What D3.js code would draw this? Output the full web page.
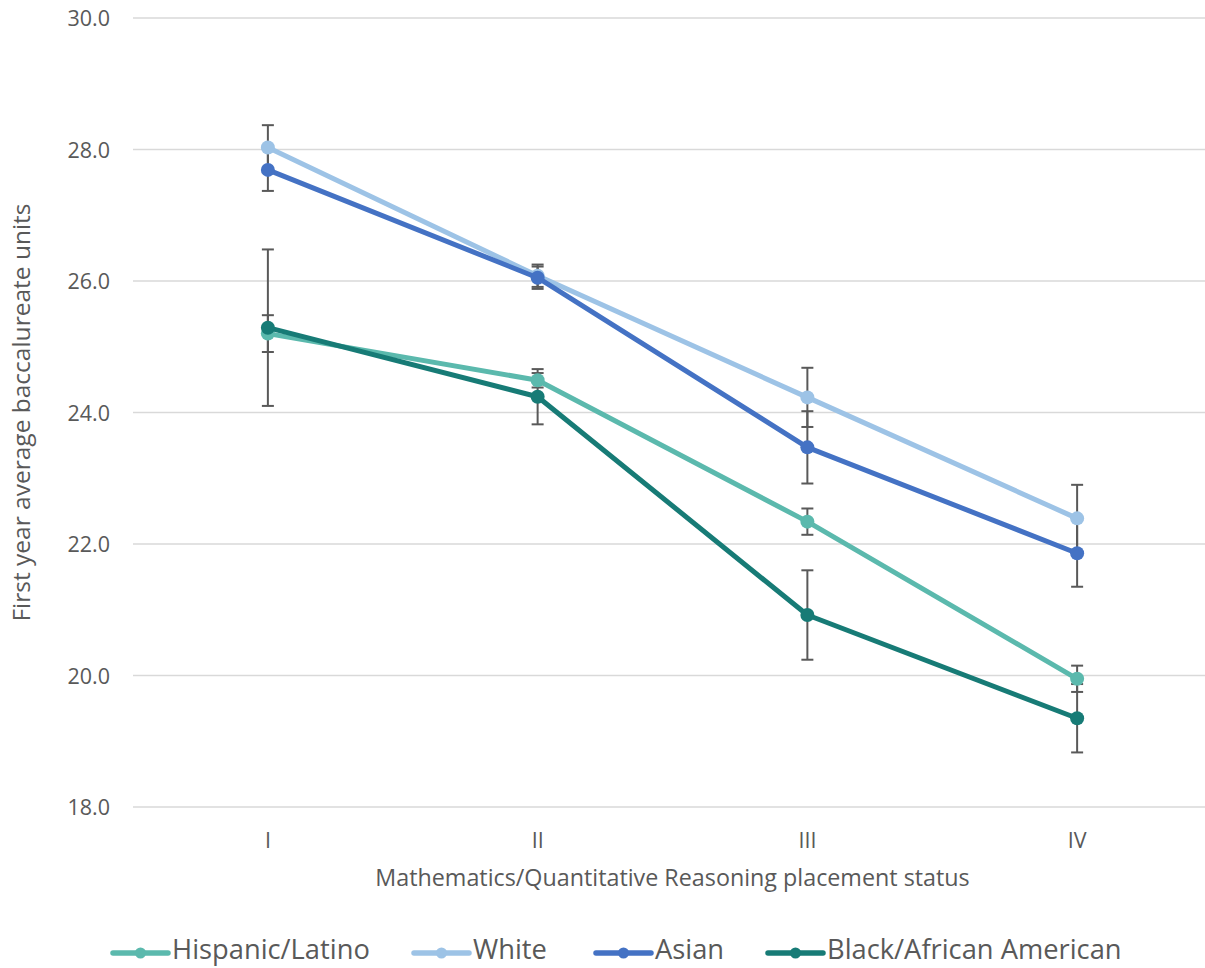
<!DOCTYPE html>
<html><head><meta charset="utf-8">
<script src="https://cdn.jsdelivr.net/npm/d3@7"></script>
<style>
html,body{margin:0;padding:0;background:#fff;}
text{font-family:"Open Sans",sans-serif;fill:#595959;}
</style></head>
<body><svg id="chart" width="1205" height="968"></svg>
<script>
const categories = ["I","II","III","IV"];
const seriesNames = ["Hispanic/Latino","White","Asian","Black/African American"];
const hispanic = [25.20, 24.49, 22.34, 19.95];
const white    = [28.03, 26.08, 24.23, 22.39];
const asian    = [27.69, 26.05, 23.47, 21.86];
const black    = [25.29, 24.24, 20.92, 19.35];
const hispanicErr = [0.28, 0.11, 0.20, 0.20];
const whiteErr    = [0.34, 0.17, 0.45, 0.51];
const asianErr    = [0.32, 0.17, 0.55, 0.51];
const blackErr    = [1.19, 0.42, 0.68, 0.52];
const yTicks = [18,20,22,24,26,28,30];
const colors = ["#5bb9ad","#9dc3e6","#4472c4","#177b76"];

const series = [
  {name: seriesNames[0], values: hispanic, err: hispanicErr, color: colors[0]},
  {name: seriesNames[1], values: white, err: whiteErr, color: colors[1]},
  {name: seriesNames[2], values: asian, err: asianErr, color: colors[2]},
  {name: seriesNames[3], values: black, err: blackErr, color: colors[3]}
];

const svg = d3.select("#chart");
const pLeft = 133, pRight = 1212, pTop = 18, pBottom = 807;
const x = d3.scaleBand().domain(categories).range([pLeft, pRight]);
const y = d3.scaleLinear().domain([18, 30]).range([pBottom, pTop]);
const cx = c => x(c) + x.bandwidth()/2;

// gridlines
svg.append("g").selectAll("line").data(yTicks).join("line")
  .attr("x1", pLeft).attr("x2", pRight)
  .attr("y1", d => y(d)).attr("y2", d => y(d))
  .attr("stroke", "#d9d9d9").attr("stroke-width", 1.5);

// y axis labels
const yAxis = d3.axisLeft(y).tickValues(yTicks).tickFormat(d3.format(".1f")).tickSize(0).tickPadding(0);
const yg = svg.append("g").attr("transform", `translate(110,0)`).call(yAxis);
yg.select(".domain").remove();
yg.selectAll("text").attr("font-size", 21.5).style("font-family", '"Open Sans",sans-serif').attr("fill", "#595959").attr("dy", "0.35em");

// x axis labels
const xAxis = d3.axisBottom(x).tickSize(0).tickPadding(0);
const xg = svg.append("g").attr("transform", `translate(0,832)`).call(xAxis);
xg.select(".domain").remove();
xg.selectAll("text").attr("font-size", 21.5).style("font-family", '"Open Sans",sans-serif').attr("fill", "#595959").attr("dy", "0.35em").attr("y", 8);

// axis titles
svg.append("text").attr("x", (pLeft+pRight)/2).attr("y", 886)
  .attr("text-anchor", "middle").attr("font-size", 23.3)
  .text("Mathematics/Quantitative Reasoning placement status");
svg.append("text").attr("transform", `translate(30,${(pTop+pBottom)/2 - 0}) rotate(-90)`)
  .attr("text-anchor", "middle").attr("font-size", 24.5)
  .text("First year average baccalureate units");

// error bars
const eg = svg.append("g");
series.forEach(s => {
  s.values.forEach((v, i) => {
    const px = cx(categories[i]);
    const y1 = y(v + s.err[i]), y2 = y(v - s.err[i]);
    eg.append("line").attr("x1", px).attr("x2", px).attr("y1", y1).attr("y2", y2)
      .attr("stroke", "#595959").attr("stroke-width", 2);
    [y1, y2].forEach(yy => eg.append("line").attr("x1", px-6).attr("x2", px+6)
      .attr("y1", yy).attr("y2", yy).attr("stroke", "#595959").attr("stroke-width", 2));
  });
});

// lines and markers
const line = d3.line().x((d,i) => cx(categories[i])).y(d => y(d));
series.forEach(s => {
  const g = svg.append("g");
  g.append("path").datum(s.values).attr("d", line)
    .attr("fill", "none").attr("stroke", s.color).attr("stroke-width", 5)
    .attr("stroke-linejoin", "round");
  g.selectAll("circle").data(s.values).join("circle")
    .attr("cx", (d,i) => cx(categories[i])).attr("cy", d => y(d)).attr("r", 7)
    .attr("fill", s.color);
});

// legend
const legendX = [113, 414, 596, 768];
const lg = svg.append("g");
series.forEach((s, i) => {
  const lx = legendX[i], ly = 953;
  lg.append("line").attr("x1", lx).attr("x2", lx+55).attr("y1", ly).attr("y2", ly)
    .attr("stroke", s.color).attr("stroke-width", 5.5).attr("stroke-linecap", "round");
  lg.append("circle").attr("cx", lx+27.5).attr("cy", ly).attr("r", 5.5).attr("fill", s.color);
  lg.append("text").attr("x", lx+59).attr("y", 959)
    .attr("font-size", 27.3).text(s.name);
});
</script></body></html>
